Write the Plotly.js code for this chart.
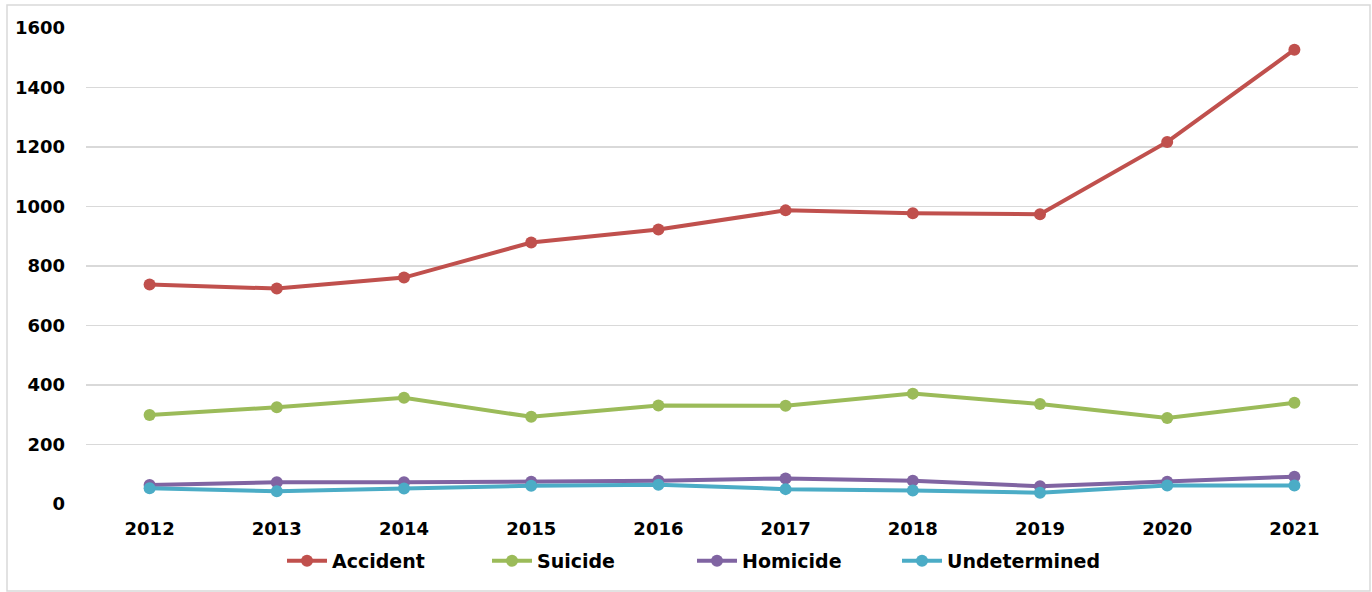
<!DOCTYPE html>
<html>
<head>
<meta charset="utf-8">
<script src="https://cdn.plot.ly/plotly-3.0.1.min.js"></script>
<style>html,body{margin:0;padding:0;background:#fff;}#chart{width:1372px;height:592px;}</style>
</head>
<body>
<div id="chart"></div>
<script>
const years = ["2012","2013","2014","2015","2016","2017","2018","2019","2020","2021"];
const accident = [738, 724, 761, 879, 923, 987, 977, 974, 1217, 1527];
const suicide = [299, 325, 357, 293, 331, 330, 371, 336, 289, 340];
const homicide = [64, 73, 73, 75, 78, 86, 78, 60, 75, 92];
const undetermined = [53, 43, 52, 61, 65, 50, 45, 38, 62, 62];
const yTicks = [0, 200, 400, 600, 800, 1000, 1200, 1400, 1600];

const seriesNames = ["Accident", "Suicide", "Homicide", "Undetermined"];
const seriesData = [accident, suicide, homicide, undetermined];
const colors = ["#C0504D", "#9BBB59", "#8064A2", "#4BACC6"];

const traces = seriesNames.map((n, i) => ({
  type: "scatter",
  mode: "lines+markers",
  name: n,
  x: years,
  y: seriesData[i],
  line: {color: colors[i], width: 4},
  marker: {color: colors[i], size: 12}
}));

const layout = {
  width: 1372,
  height: 592,
  margin: {l: 86, r: 14, t: 28, b: 88},
  paper_bgcolor: "#fff",
  plot_bgcolor: "#fff",
  showlegend: true,
  legend: {
    orientation: "h",
    xref: "container", yref: "container",
    x: 282 / 1372, xanchor: "left",
    y: (592 - 561) / 592, yanchor: "middle",
    font: {family: "DejaVu Sans", size: 19, color: "#000", weight: "bold"},
    itemwidth: 40,
    entrywidth: 150,
    entrywidthmode: "pixels",
    bgcolor: "rgba(0,0,0,0)"
  },
  xaxis: {
    type: "category",
    range: [-0.5, 9.5],
    tickfont: {family: "DejaVu Sans", size: 18, color: "#000", weight: "bold"},
    showgrid: false,
    showline: false,
    ticks: "",
    ticklabelstandoff: 12
  },
  yaxis: {
    range: [0, 1600],
    tickvals: yTicks,
    ticktext: yTicks.map(String),
    tickfont: {family: "DejaVu Sans", size: 18, color: "#000", weight: "bold"},
    showgrid: true,
    gridcolor: "#D9D9D9",
    gridwidth: 1.5,
    zeroline: false,
    showline: false,
    ticks: "",
    ticklabelstandoff: 20
  },
  shapes: [{
    type: "rect", xref: "paper", yref: "paper",
    x0: (7 - 86) / 1272, x1: (1370 - 86) / 1272,
    y0: (504 - 591) / 476, y1: (504 - 5) / 476,
    line: {color: "#D9D9D9", width: 1.5},
    fillcolor: "rgba(0,0,0,0)",
    layer: "below"
  }]
};

Plotly.newPlot("chart", traces, layout, {displayModeBar: false, staticPlot: true});
</script>
</body>
</html>
